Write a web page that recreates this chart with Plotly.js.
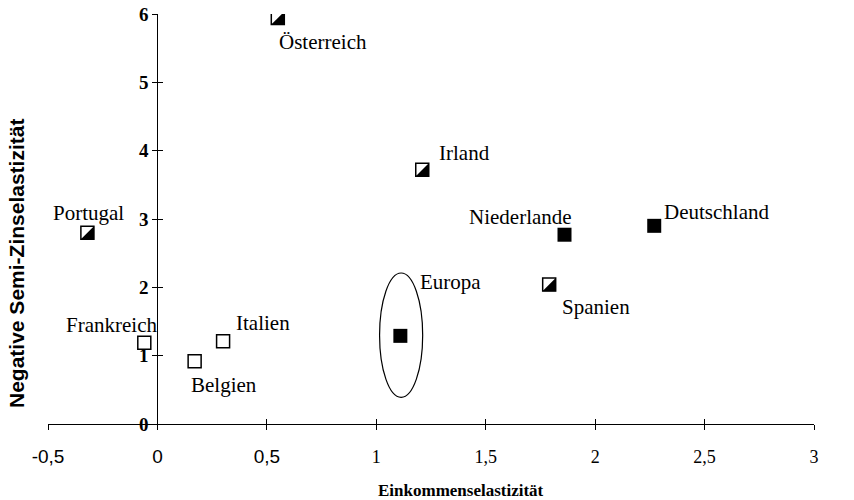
<!DOCTYPE html>
<html>
<head>
<meta charset="utf-8">
<script src="https://cdn.plot.ly/plotly-3.0.1.min.js"></script>
<style>html,body{margin:0;padding:0;background:#fff;}#chart{width:854px;height:500px;}</style>
</head>
<body>
<div id="chart"></div>
<script>
// ---- data ----
const filledNames = ['Niederlande', 'Deutschland', 'Europa'];
const filledX = [1.86, 2.27, 1.11];
const filledY = [2.77, 2.90, 1.29];

const halfNames = ['Österreich', 'Irland', 'Portugal', 'Spanien'];
const halfX = [0.55, 1.21, -0.32, 1.79];
const halfY = [5.94, 3.72, 2.80, 2.04];

const openNames = ['Frankreich', 'Italien', 'Belgien'];
const openX = [-0.06, 0.30, 0.17];
const openY = [1.19, 1.21, 0.92];

const xTickVals = [-0.5, 0, 0.5, 1, 1.5, 2, 2.5, 3];
const xTickText = ['-0,5', '0', '0,5', '1', '1,5', '2', '2,5', '3'];
const yTickVals = [0, 1, 2, 3, 4, 5, 6];

const xTitle = 'Einkommenselastizität';
const yTitle = 'Negative Semi-Zinselastizität';

// ---- style ----
const serif = 'Liberation Serif, Times New Roman, serif';
const sans = 'Liberation Sans, Arial, sans-serif';
const sansTickCount = 3; // the first three x tick labels are set in a sans face
const xRange = [-0.5, 3];
const yRange = [0, 6];
const margin = {l: 48, r: 40, t: 14, b: 76};
const plotW = 854 - margin.l - margin.r;
const plotH = 500 - margin.t - margin.b;
const triShiftPx = 2.25;
const dxU = triShiftPx / plotW * (xRange[1] - xRange[0]);
const dyU = triShiftPx / plotH * (yRange[1] - yRange[0]);
const yAxisPos = (0 - xRange[0]) / (xRange[1] - xRange[0]);

const xTickLabels = xTickText.map((t, i) =>
  i < sansTickCount ? '<span style="font-family:Liberation Sans, Arial, sans-serif;font-size:19px">' + t + '</span>' : t);

// label placement (style): [xanchor, xshift, yshift]
const labelStyle = {
  'Niederlande': ['right', 9, 18],
  'Deutschland': ['left', 8, 14],
  'Europa': ['left', 18, 54],
  'Österreich': ['left', -1, -24],
  'Irland': ['left', 15, 17],
  'Portugal': ['center', 1, 20],
  'Spanien': ['left', 11, -22],
  'Frankreich': ['right', 15, 18],
  'Italien': ['left', 11, 18],
  'Belgien': ['left', -6, -24]
};

const traces = [
  { // filled squares
    type: 'scatter', mode: 'markers', x: filledX, y: filledY, text: filledNames,
    xaxis: 'x', yaxis: 'y',
    marker: {symbol: 'square', size: 14, color: '#000', line: {width: 0}},
    hoverinfo: 'text', showlegend: false
  },
  { // open squares
    type: 'scatter', mode: 'markers', x: openX, y: openY, text: openNames,
    xaxis: 'x', yaxis: 'y',
    marker: {symbol: 'square', size: 13, color: '#fff', line: {width: 1.5, color: '#000'}},
    hoverinfo: 'text', showlegend: false
  },
  { // half squares: outline
    type: 'scatter', mode: 'markers', x: halfX, y: halfY, text: halfNames,
    xaxis: 'x', yaxis: 'y',
    marker: {symbol: 'square', size: 13, color: '#fff', line: {width: 1.5, color: '#000'}},
    hoverinfo: 'text', showlegend: false
  },
  { // half squares: black lower-right half
    type: 'scatter', mode: 'markers', x: halfX, y: halfY, text: halfNames,
    xaxis: 'x3', yaxis: 'y3',
    marker: {symbol: 'triangle-se', size: 15, color: '#000', line: {width: 0}},
    hoverinfo: 'text', showlegend: false
  },
  { // keeps the overlay tick axes x2/y2 drawn
    type: 'scatter', mode: 'markers', x: [], y: [], xaxis: 'x2', yaxis: 'y2',
    showlegend: false, hoverinfo: 'skip'
  }
];

const annotations = [];
function addLabels(names, xs, ys) {
  names.forEach((n, i) => {
    const s = labelStyle[n];
    annotations.push({
      x: xs[i], y: ys[i], xref: 'x', yref: 'y', text: n, showarrow: false,
      xanchor: s[0], yanchor: 'middle', xshift: s[1], yshift: s[2],
      font: {family: serif, size: 21, color: '#000'}
    });
  });
}
addLabels(filledNames, filledX, filledY);
addLabels(halfNames, halfX, halfY);
addLabels(openNames, openX, openY);

annotations.push({
  xref: 'paper', yref: 'paper', x: (461 - margin.l) / plotW, y: -0.162,
  text: xTitle, showarrow: false, xanchor: 'center', yanchor: 'middle',
  font: {family: serif, size: 17, color: '#000', weight: 'bold'}
});
annotations.push({
  xref: 'paper', yref: 'paper', x: (16 - margin.l) / plotW, y: (424 - 264) / plotH,
  text: yTitle, showarrow: false, textangle: -90, xanchor: 'center', yanchor: 'middle',
  font: {family: sans, size: 21, color: '#000', weight: 'bold'}
});

// ellipse around Europa (relative to its point)
const eIdx = filledNames.indexOf('Europa');
const ex = filledX[eIdx], ey = filledY[eIdx];
const shapes = [{
  type: 'circle', xref: 'x', yref: 'y',
  x0: ex - 0.095, x1: ex + 0.102, y0: ey - 0.9, y1: ey + 0.92,
  line: {color: '#000', width: 1.2}, fillcolor: 'rgba(0,0,0,0)'
}];

const layout = {
  width: 854, height: 500, margin: margin,
  paper_bgcolor: '#fff', plot_bgcolor: '#fff',
  showlegend: false, hovermode: 'closest',
  xaxis: {
    range: xRange, showgrid: false, zeroline: false,
    showline: true, linecolor: '#000', linewidth: 1.3,
    ticks: 'outside', ticklen: 5, tickwidth: 1.2, tickcolor: '#000',
    tickvals: xTickVals, ticktext: xTickLabels, ticklabelstandoff: 11,
    tickfont: {family: serif, size: 18, color: '#000'},
    anchor: 'y', fixedrange: true
  },
  xaxis2: {
    range: xRange, overlaying: 'x', anchor: 'y', side: 'bottom',
    showgrid: false, zeroline: false, showline: false,
    ticks: 'inside', ticklen: 5, tickwidth: 1.2, tickcolor: '#000',
    tickvals: xTickVals, showticklabels: false, fixedrange: true
  },
  yaxis: {
    range: yRange, showgrid: false, zeroline: false,
    showline: true, linecolor: '#000', linewidth: 1.3,
    ticks: 'outside', ticklen: 5, tickwidth: 1.2, tickcolor: '#000',
    tickvals: yTickVals,
    tickfont: {family: serif, size: 19, color: '#000', weight: 'bold'},
    anchor: 'free', position: yAxisPos, side: 'left', fixedrange: true
  },
  yaxis2: {
    range: yRange, overlaying: 'y', anchor: 'free', position: yAxisPos, side: 'left',
    showgrid: false, zeroline: false, showline: false,
    ticks: 'inside', ticklen: 5, tickwidth: 1.2, tickcolor: '#000',
    tickvals: yTickVals, showticklabels: false, fixedrange: true
  },
  xaxis3: {
    range: [xRange[0] - dxU, xRange[1] - dxU], overlaying: 'x', anchor: 'y3',
    visible: false, fixedrange: true
  },
  yaxis3: {
    range: [yRange[0] + dyU, yRange[1] + dyU], overlaying: 'y', anchor: 'x3',
    visible: false, fixedrange: true
  },
  annotations: annotations,
  shapes: shapes
};

Plotly.newPlot('chart', traces, layout, {displayModeBar: false});
</script>
</body>
</html>
